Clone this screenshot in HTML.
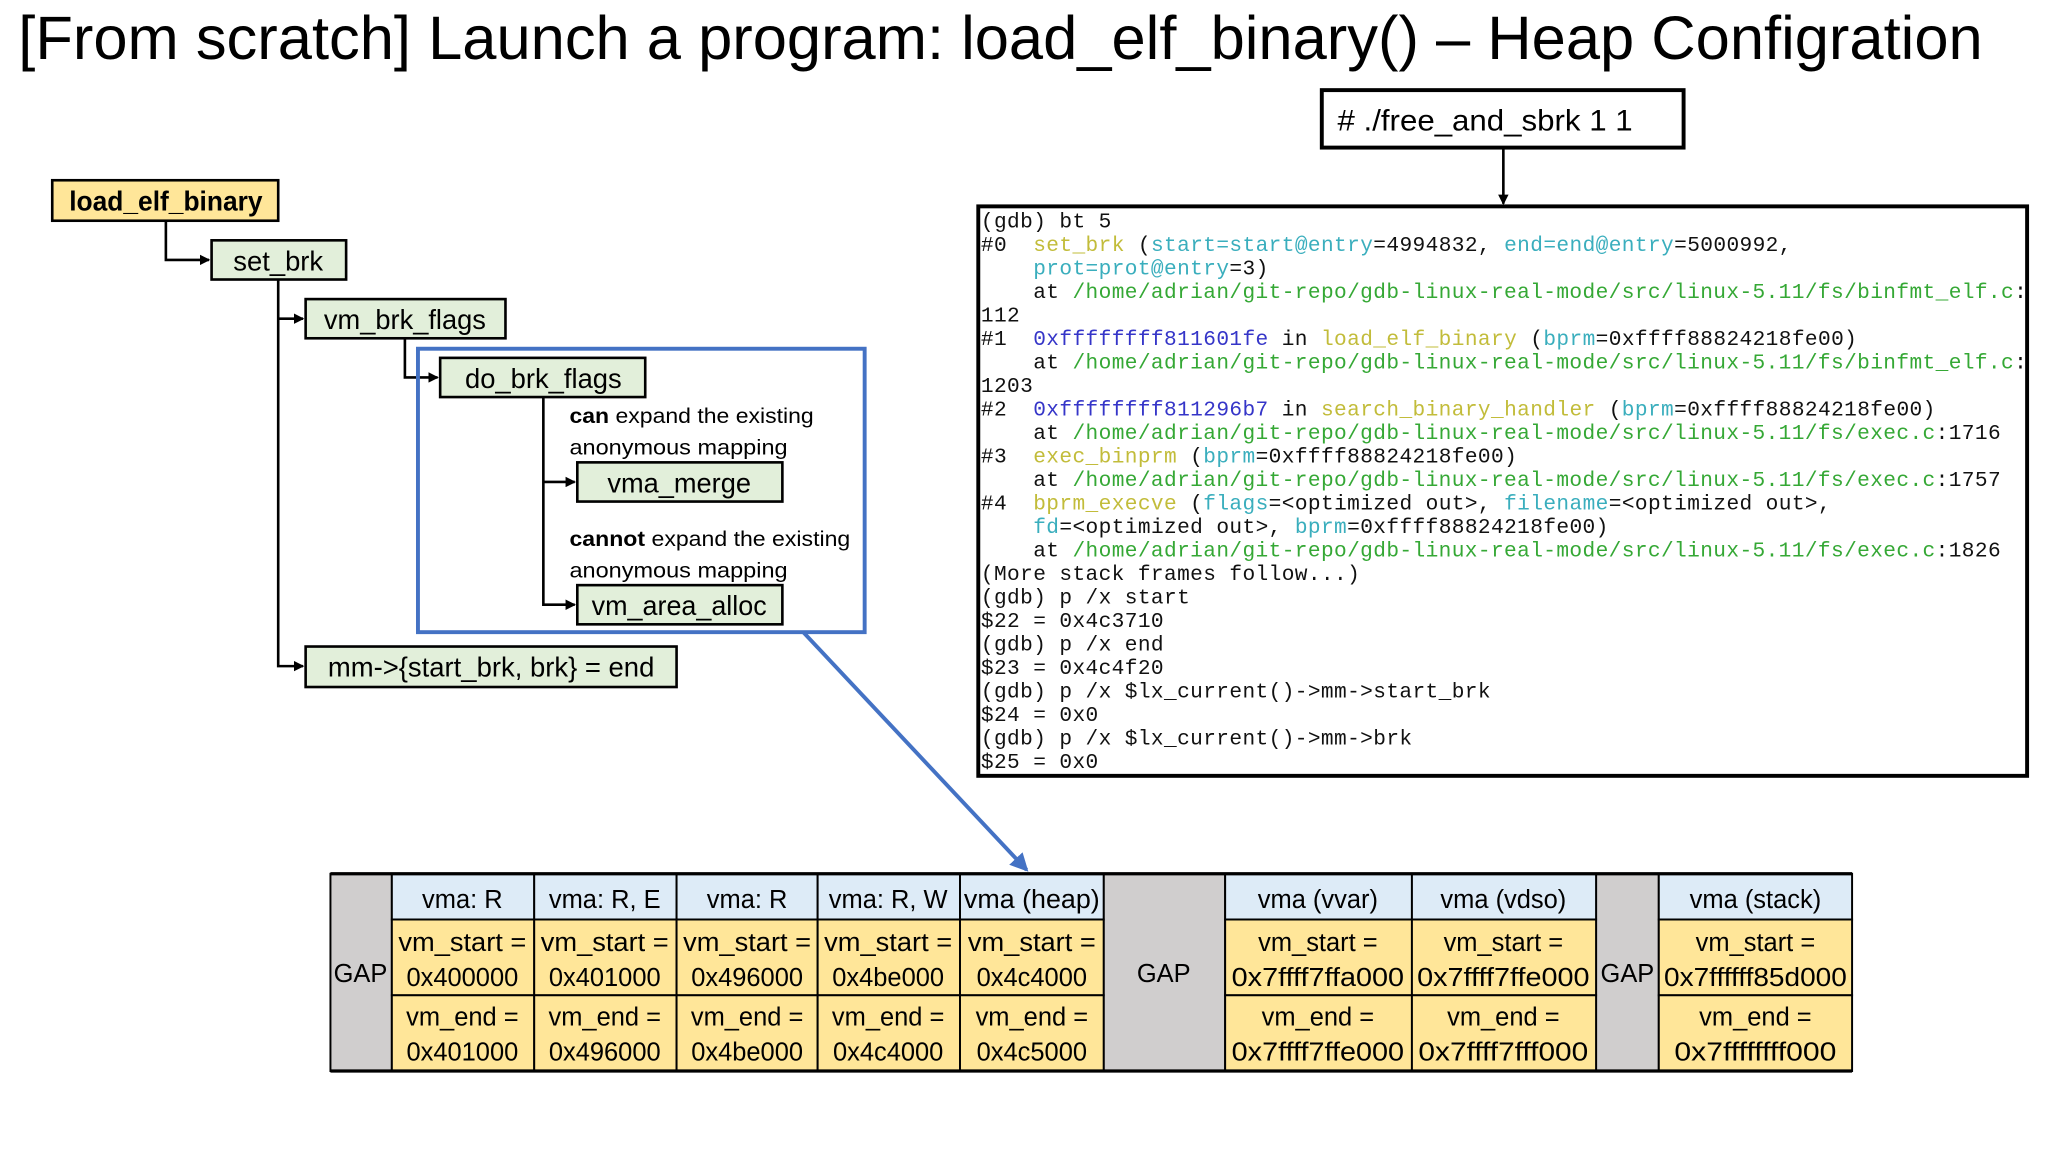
<!DOCTYPE html>
<html><head><meta charset="utf-8"><style>
html,body{margin:0;padding:0;background:#fff;width:2048px;height:1152px;overflow:hidden}
svg{display:block}
.t{font-family:"Liberation Sans",sans-serif;fill:#000}
.m{font-family:"Liberation Mono",monospace;font-size:16.2px;letter-spacing:0.3px;fill:#111;white-space:pre}
.m text{white-space:pre}
.y{fill:#c2bc3a}.c{fill:#3aaebd}.g{fill:#35a835}.b{fill:#3535c8}
</style></head><body>
<svg width="2048" height="1152" viewBox="0 0 1568 882" preserveAspectRatio="none">
<defs>
<marker id="a" markerWidth="8" markerHeight="8" refX="7" refY="4" orient="auto" markerUnits="userSpaceOnUse"><path d="M0,0 L8,4 L0,8 z" fill="#000"/></marker>
<marker id="ab" markerWidth="14" markerHeight="14" refX="12" refY="7" orient="auto" markerUnits="userSpaceOnUse"><path d="M0,0 L14,7 L0,14 z" fill="#4472c4"/></marker>
</defs>
<text class="t" x="14" y="45" font-size="47" textLength="1504" lengthAdjust="spacingAndGlyphs" fill="#222">[From scratch] Launch a program: load_elf_binary() – Heap Configration</text>

<rect x="1012" y="69" width="277" height="44" fill="#fff" stroke="#000" stroke-width="3"/>
<text class="t" x="1024" y="100" font-size="23" textLength="226" lengthAdjust="spacingAndGlyphs"># ./free_and_sbrk 1 1</text>
<line x1="1151" y1="113" x2="1151" y2="156" stroke="#000" stroke-width="2" marker-end="url(#a)"/>

<rect x="749" y="158" width="803" height="436" fill="#fff" stroke="#000" stroke-width="3"/>
<g class="m" xml:space="preserve">
<text x="751" y="174">(gdb) bt 5</text>
<text x="751" y="192">#0  <tspan class="y">set_brk</tspan> (<tspan class="c">start=start@entry</tspan>=4994832, <tspan class="c">end=end@entry</tspan>=5000992,</text>
<text x="751" y="210">    <tspan class="c">prot=prot@entry</tspan>=3)</text>
<text x="751" y="228">    at <tspan class="g">/home/adrian/git-repo/gdb-linux-real-mode/src/linux-5.11/fs/binfmt_elf.c</tspan>:</text>
<text x="751" y="246">112</text>
<text x="751" y="264">#1  <tspan class="b">0xffffffff811601fe</tspan> in <tspan class="y">load_elf_binary</tspan> (<tspan class="c">bprm</tspan>=0xffff88824218fe00)</text>
<text x="751" y="282">    at <tspan class="g">/home/adrian/git-repo/gdb-linux-real-mode/src/linux-5.11/fs/binfmt_elf.c</tspan>:</text>
<text x="751" y="300">1203</text>
<text x="751" y="318">#2  <tspan class="b">0xffffffff811296b7</tspan> in <tspan class="y">search_binary_handler</tspan> (<tspan class="c">bprm</tspan>=0xffff88824218fe00)</text>
<text x="751" y="336">    at <tspan class="g">/home/adrian/git-repo/gdb-linux-real-mode/src/linux-5.11/fs/exec.c</tspan>:1716</text>
<text x="751" y="354">#3  <tspan class="y">exec_binprm</tspan> (<tspan class="c">bprm</tspan>=0xffff88824218fe00)</text>
<text x="751" y="372">    at <tspan class="g">/home/adrian/git-repo/gdb-linux-real-mode/src/linux-5.11/fs/exec.c</tspan>:1757</text>
<text x="751" y="390">#4  <tspan class="y">bprm_execve</tspan> (<tspan class="c">flags</tspan>=&lt;optimized out&gt;, <tspan class="c">filename</tspan>=&lt;optimized out&gt;,</text>
<text x="751" y="408">    <tspan class="c">fd</tspan>=&lt;optimized out&gt;, <tspan class="c">bprm</tspan>=0xffff88824218fe00)</text>
<text x="751" y="426">    at <tspan class="g">/home/adrian/git-repo/gdb-linux-real-mode/src/linux-5.11/fs/exec.c</tspan>:1826</text>
<text x="751" y="444">(More stack frames follow...)</text>
<text x="751" y="462">(gdb) p /x start</text>
<text x="751" y="480">$22 = 0x4c3710</text>
<text x="751" y="498">(gdb) p /x end</text>
<text x="751" y="516">$23 = 0x4c4f20</text>
<text x="751" y="534">(gdb) p /x $lx_current()-&gt;mm-&gt;start_brk</text>
<text x="751" y="552">$24 = 0x0</text>
<text x="751" y="570">(gdb) p /x $lx_current()-&gt;mm-&gt;brk</text>
<text x="751" y="588">$25 = 0x0</text>
</g>

<!-- tree -->
<g stroke="#000" stroke-width="2" fill="none">
<polyline points="127,169 127,199 160,199" marker-end="url(#a)"/>
<polyline points="213,214 213,510 232,510" marker-end="url(#a)"/>
<polyline points="213,244 232,244" marker-end="url(#a)"/>
<polyline points="310,259 310,289 335,289" marker-end="url(#a)"/>
<polyline points="416,304 416,463 440,463" marker-end="url(#a)"/>
<polyline points="416,369 440,369" marker-end="url(#a)"/>
</g>
<rect x="320" y="267" width="342" height="217" fill="none" stroke="#4472c4" stroke-width="3"/>
<line x1="615" y1="484" x2="786" y2="666" stroke="#4472c4" stroke-width="3" marker-end="url(#ab)"/>

<g stroke="#000" stroke-width="2">
<rect x="40" y="138" width="173" height="31" fill="#ffe699"/>
<rect x="162" y="184" width="103" height="30" fill="#e2efda"/>
<rect x="234" y="229" width="153" height="30" fill="#e2efda"/>
<rect x="337" y="274" width="157" height="30" fill="#e2efda"/>
<rect x="442" y="354" width="157" height="30" fill="#e2efda"/>
<rect x="442" y="448" width="157" height="30" fill="#e2efda"/>
<rect x="234" y="495" width="284" height="31" fill="#e2efda"/>
</g>
<g class="t" font-size="21" text-anchor="middle">
<text x="127" y="161" font-weight="bold" textLength="148" lengthAdjust="spacingAndGlyphs">load_elf_binary</text>
<text x="213" y="207">set_brk</text>
<text x="310" y="252" textLength="124" lengthAdjust="spacingAndGlyphs">vm_brk_flags</text>
<text x="416" y="297" textLength="120" lengthAdjust="spacingAndGlyphs">do_brk_flags</text>
<text x="520" y="377" textLength="110" lengthAdjust="spacingAndGlyphs">vma_merge</text>
<text x="520" y="471" textLength="134" lengthAdjust="spacingAndGlyphs">vm_area_alloc</text>
<text x="376" y="518" textLength="250" lengthAdjust="spacingAndGlyphs">mm-&gt;{start_brk, brk} = end</text>
</g>
<g class="t" font-size="16.5">
<text x="436" y="324" textLength="187" lengthAdjust="spacingAndGlyphs"><tspan font-weight="bold">can</tspan> expand the existing</text>
<text x="436" y="348" textLength="167" lengthAdjust="spacingAndGlyphs">anonymous mapping</text>
<text x="436" y="418" textLength="215" lengthAdjust="spacingAndGlyphs"><tspan font-weight="bold">cannot</tspan> expand the existing</text>
<text x="436" y="442" textLength="167" lengthAdjust="spacingAndGlyphs">anonymous mapping</text>
</g>

<!-- table -->
<g stroke="#000" stroke-width="1.5">
<rect x="253" y="669" width="47" height="151" fill="#d0cece"/>
<rect x="845" y="669" width="93" height="151" fill="#d0cece"/>
<rect x="1222" y="669" width="48" height="151" fill="#d0cece"/>
<g fill="#ddebf7">
<rect x="300" y="669" width="109" height="35"/><rect x="409" y="669" width="109" height="35"/><rect x="518" y="669" width="108" height="35"/><rect x="626" y="669" width="109" height="35"/><rect x="735" y="669" width="110" height="35"/>
<rect x="938" y="669" width="143" height="35"/><rect x="1081" y="669" width="141" height="35"/><rect x="1270" y="669" width="148" height="35"/>
</g>
<g fill="#ffe699">
<rect x="300" y="704" width="109" height="58"/><rect x="409" y="704" width="109" height="58"/><rect x="518" y="704" width="108" height="58"/><rect x="626" y="704" width="109" height="58"/><rect x="735" y="704" width="110" height="58"/>
<rect x="938" y="704" width="143" height="58"/><rect x="1081" y="704" width="141" height="58"/><rect x="1270" y="704" width="148" height="58"/>
<rect x="300" y="762" width="109" height="58"/><rect x="409" y="762" width="109" height="58"/><rect x="518" y="762" width="108" height="58"/><rect x="626" y="762" width="109" height="58"/><rect x="735" y="762" width="110" height="58"/>
<rect x="938" y="762" width="143" height="58"/><rect x="1081" y="762" width="141" height="58"/><rect x="1270" y="762" width="148" height="58"/>
</g>
<line x1="253" y1="669" x2="1418" y2="669" stroke-width="2.5"/>
<line x1="253" y1="820" x2="1418" y2="820" stroke-width="2.5"/>
</g>
<g class="t" font-size="19.5" text-anchor="middle">
<text x="276" y="752">GAP</text><text x="891" y="752">GAP</text><text x="1246" y="752">GAP</text>
<text x="354" y="695">vma: R</text><text x="463" y="695">vma: R, E</text><text x="572" y="695">vma: R</text><text x="680" y="695">vma: R, W</text><text x="790" y="695" textLength="104" lengthAdjust="spacingAndGlyphs">vma (heap)</text>
<text x="1009" y="695">vma (vvar)</text><text x="1151" y="695">vma (vdso)</text><text x="1344" y="695">vma (stack)</text>
<text x="354" y="728" textLength="98" lengthAdjust="spacingAndGlyphs">vm_start =</text><text x="463" y="728" textLength="98" lengthAdjust="spacingAndGlyphs">vm_start =</text><text x="572" y="728" textLength="98" lengthAdjust="spacingAndGlyphs">vm_start =</text><text x="680" y="728" textLength="98" lengthAdjust="spacingAndGlyphs">vm_start =</text><text x="790" y="728" textLength="98" lengthAdjust="spacingAndGlyphs">vm_start =</text>
<text x="1009" y="728">vm_start =</text><text x="1151" y="728">vm_start =</text><text x="1344" y="728">vm_start =</text>
<text x="354" y="755">0x400000</text><text x="463" y="755">0x401000</text><text x="572" y="755">0x496000</text><text x="680" y="755">0x4be000</text><text x="790" y="755">0x4c4000</text>
<text x="1009" y="755" textLength="132" lengthAdjust="spacingAndGlyphs">0x7ffff7ffa000</text><text x="1151" y="755" textLength="132" lengthAdjust="spacingAndGlyphs">0x7ffff7ffe000</text><text x="1344" y="755" textLength="140" lengthAdjust="spacingAndGlyphs">0x7ffffff85d000</text>
<text x="354" y="785">vm_end =</text><text x="463" y="785">vm_end =</text><text x="572" y="785">vm_end =</text><text x="680" y="785">vm_end =</text><text x="790" y="785">vm_end =</text>
<text x="1009" y="785">vm_end =</text><text x="1151" y="785">vm_end =</text><text x="1344" y="785">vm_end =</text>
<text x="354" y="812">0x401000</text><text x="463" y="812">0x496000</text><text x="572" y="812">0x4be000</text><text x="680" y="812">0x4c4000</text><text x="790" y="812">0x4c5000</text>
<text x="1009" y="812" textLength="132" lengthAdjust="spacingAndGlyphs">0x7ffff7ffe000</text><text x="1151" y="812" textLength="130" lengthAdjust="spacingAndGlyphs">0x7ffff7fff000</text><text x="1344" y="812" textLength="124" lengthAdjust="spacingAndGlyphs">0x7ffffffff000</text>
</g>
</svg>
</body></html>
